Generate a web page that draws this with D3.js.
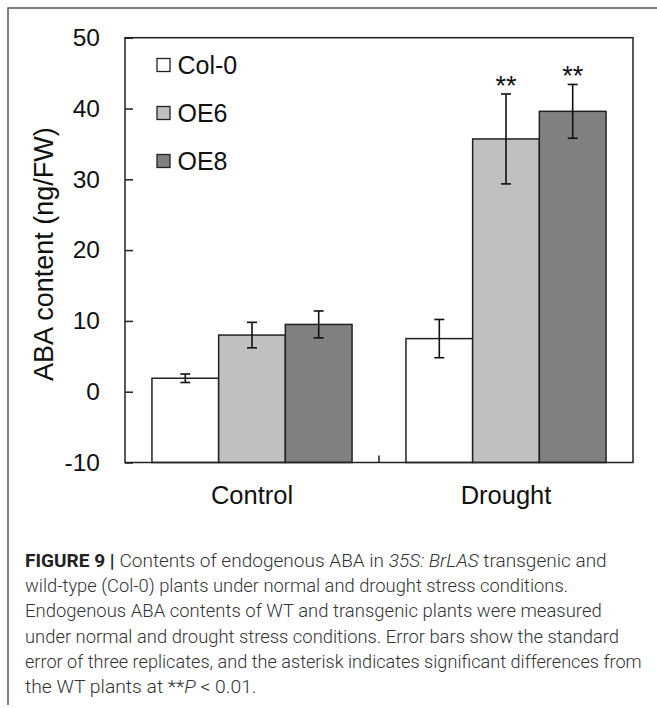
<!DOCTYPE html>
<html>
<head>
<meta charset="utf-8">
<script src="https://cdn.jsdelivr.net/npm/d3@7"></script>
<style>
  html, body { margin: 0; padding: 0; background: #fff; }
  svg { display: block; }
</style>
</head>
<body>
<div id="chart"></div>
<script>
// ABA content bar chart with error bars.
const categories = ['Control', 'Drought'];
const series = ['Col-0', 'OE6', 'OE8'];
const seriesColors = ['#ffffff', '#c0c0c0', '#808080'];
const col0Values = [1.9, 7.5];
const oe6Values = [8.0, 35.7];
const oe8Values = [9.5, 39.6];
const col0Errors = [0.6, 2.7];
const oe6Errors = [1.8, 6.35];
const oe8Errors = [1.9, 3.8];
const col0Marks = ['', ''];
const oe6Marks = ['', '**'];
const oe8Marks = ['', '**'];
const yTicks = [-10, 0, 10, 20, 30, 40, 50];
const yLabel = 'ABA content (ng/FW)';

const W = 657, H = 708;
const plot = { left: 125, right: 633, top: 37.7, bottom: 462.5 };
const FONT = '"Liberation Sans", Arial, sans-serif';

const valuesBySeries = [col0Values, oe6Values, oe8Values];
const errorsBySeries = [col0Errors, oe6Errors, oe8Errors];
const marksBySeries = [col0Marks, oe6Marks, oe8Marks];

const rows = [];
categories.forEach((c, ci) => {
  series.forEach((s, si) => {
    rows.push({ cat: c, s, si, v: valuesBySeries[si][ci], e: errorsBySeries[si][ci], mark: marksBySeries[si][ci] });
  });
});

const svg = d3.select('#chart').append('svg')
  .attr('width', W).attr('height', H)
  .attr('viewBox', `0 0 ${W} ${H}`);

// outer figure frame (top + left only)
svg.append('path')
  .attr('d', `M8,705 L8,8 L657,8`)
  .attr('fill', 'none').attr('stroke', '#555').attr('stroke-width', 1.5);

const y = d3.scaleLinear().domain([-10, 50]).range([plot.bottom, plot.top]);
const x0 = d3.scaleBand().domain(categories).range([plot.left, plot.right]).padding(0);
const x1 = d3.scaleBand().domain(series).range([0, x0.bandwidth()]).paddingInner(0).paddingOuter(0.404);

// y axis, ticks pointing inward; plain hyphen for negatives like the original
const yAxis = svg.append('g')
  .attr('transform', `translate(${plot.left},0)`)
  .call(d3.axisLeft(y).tickValues(yTicks).tickSize(-8).tickPadding(25).tickFormat(d => String(d)));
yAxis.select('.domain').remove();
yAxis.selectAll('line').attr('stroke', '#222').attr('stroke-width', 1.5);
yAxis.selectAll('text')
  .attr('font-family', FONT).attr('font-size', 24.5).attr('fill', '#111');

// bars
const bars = svg.append('g');
bars.selectAll('rect').data(rows).enter().append('rect')
  .attr('x', d => x0(d.cat) + x1(d.s))
  .attr('y', d => y(d.v))
  .attr('width', x1.bandwidth())
  .attr('height', d => y(-10) - y(d.v))
  .attr('fill', d => seriesColors[d.si])
  .attr('stroke', '#222').attr('stroke-width', 1.5);

// error bars
const errs = svg.append('g').attr('stroke', '#111').attr('stroke-width', 1.6);
rows.forEach(d => {
  const cx = x0(d.cat) + x1(d.s) + x1.bandwidth() / 2;
  errs.append('line').attr('x1', cx).attr('x2', cx).attr('y1', y(d.v + d.e)).attr('y2', y(d.v - d.e));
  errs.append('line').attr('x1', cx - 5).attr('x2', cx + 5).attr('y1', y(d.v + d.e)).attr('y2', y(d.v + d.e));
  errs.append('line').attr('x1', cx - 5).attr('x2', cx + 5).attr('y1', y(d.v - d.e)).attr('y2', y(d.v - d.e));
});

// significance stars
svg.append('g').selectAll('text').data(rows.filter(d => d.mark)).enter().append('text')
  .attr('x', d => x0(d.cat) + x1(d.s) + x1.bandwidth() / 2)
  .attr('y', d => y(d.v + d.e) + 1)
  .attr('text-anchor', 'middle')
  .attr('font-family', FONT).attr('font-size', 27).attr('fill', '#111')
  .text(d => d.mark);

// plot box
svg.append('rect')
  .attr('x', plot.left).attr('y', plot.top)
  .attr('width', plot.right - plot.left).attr('height', plot.bottom - plot.top)
  .attr('fill', 'none').attr('stroke', '#222').attr('stroke-width', 1.5);

// category divider tick on the bottom axis
const mid = (plot.left + plot.right) / 2;
svg.append('line')
  .attr('x1', mid).attr('x2', mid).attr('y1', plot.bottom).attr('y2', plot.bottom - 7)
  .attr('stroke', '#222').attr('stroke-width', 1.5);

// category labels
svg.append('g').selectAll('text').data(categories).enter().append('text')
  .attr('x', d => x0(d) + x0.bandwidth() / 2)
  .attr('y', 504)
  .attr('text-anchor', 'middle')
  .attr('font-family', FONT).attr('font-size', 25.5).attr('fill', '#111')
  .text(d => d);

// y axis title
svg.append('text')
  .attr('transform', `translate(53,${(plot.top + plot.bottom) / 2 + 4}) rotate(-90)`)
  .attr('text-anchor', 'middle')
  .attr('font-family', FONT).attr('font-size', 27).attr('fill', '#111')
  .text(yLabel);

// legend
const legend = svg.append('g');
series.forEach((s, i) => {
  const cy = 65 + i * 48;
  legend.append('rect')
    .attr('x', 157).attr('y', cy - 6.5).attr('width', 13).attr('height', 13)
    .attr('fill', seriesColors[i]).attr('stroke', '#222').attr('stroke-width', 1.3);
  legend.append('text')
    .attr('x', 177.5).attr('y', cy + 9)
    .attr('font-family', FONT).attr('font-size', 25).attr('fill', '#111')
    .text(s);
});

// caption — each line is stretched to the width it has in the figure
const captionLines = [
  { width: 582, parts: [['FIGURE 9 | ', 'b'], ['Contents of endogenous ABA in ', ''], ['35S: BrLAS', 'i'], [' transgenic and', '']] },
  { width: 543.7, parts: [['wild-type (Col-0) plants under normal and drought stress conditions.', '']] },
  { width: 577, parts: [['Endogenous ABA contents of WT and transgenic plants were measured', '']] },
  { width: 594.7, parts: [['under normal and drought stress conditions. Error bars show the standard', '']] },
  { width: 617, parts: [['error of three replicates, and the asterisk indicates significant differences from', '']] },
  { width: 231.7, parts: [['the WT plants at **', ''], ['P', 'i'], [' < 0.01.', '']] },
];
const cap = svg.append('g');
captionLines.forEach((line, i) => {
  const t = cap.append('text')
    .attr('font-family', 'Roboto, "Liberation Sans", sans-serif')
    .attr('font-size', 17.5).attr('font-weight', 300).attr('fill', '#333')
    .attr('transform', `translate(25,${566.7 + i * 25.3})`);
  line.parts.forEach(([txt, style]) => {
    const sp = t.append('tspan').text(txt);
    if (style === 'b') sp.attr('font-weight', 'bold').attr('fill', '#222');
    if (style === 'i') sp.attr('font-style', 'italic');
  });
  const len = t.node().getComputedTextLength();
  const sx = len > 0 ? line.width / len : 1;
  t.attr('transform', `translate(25,${566.7 + i * 25.3}) scale(${sx},1)`);
});
</script>
</body>
</html>
